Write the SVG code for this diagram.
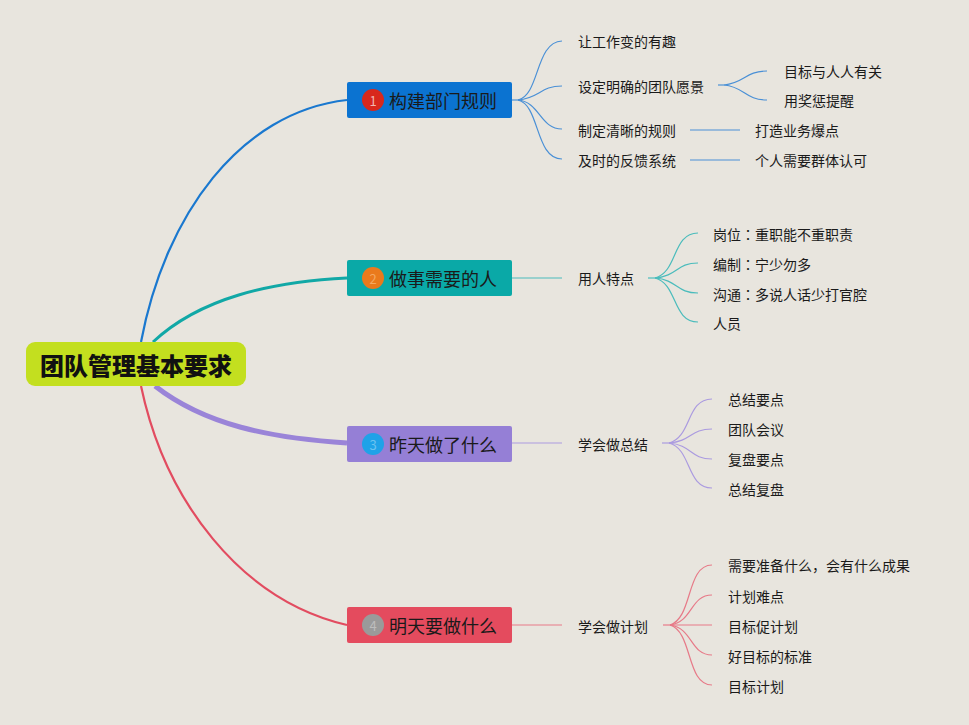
<svg xmlns="http://www.w3.org/2000/svg" width="969" height="725" viewBox="0 0 969 725">
<style>
text{font-family:"Noto Sans CJK SC","Noto Sans",sans-serif;fill:#1a1a1a}
.sub{font-size:14px;dominant-baseline:central}
.br{font-size:18px;dominant-baseline:central}
.num{font-size:13px;text-anchor:middle;dominant-baseline:central}
.root{font-size:24px;font-weight:900;text-anchor:middle;dominant-baseline:central;fill:#111}
.colon{font-family:"Noto Sans CJK JP",sans-serif}
path{fill:none}
.c1{stroke:#1a78cf}
.c2{stroke:#11a8a6}
.c3{stroke:#9a84d8}
.c4{stroke:#e24c60}
.s1{stroke:#4a90d6;stroke-width:1.2}
.s2{stroke:#4bbcbc;stroke-width:1.2}
.s3{stroke:#ab9be0;stroke-width:1.2}
.s4{stroke:#e77a88;stroke-width:1.2}
</style>
<rect width="969" height="725" fill="#e8e5de"/>
<g id="connectors">
<path class="c1" stroke-width="2.2" d="M141,342 C165,215 240,112 347,100"/>
<path class="c2" stroke-width="3" d="M153,342 C200,298 270,282 347,278"/>
<path class="c3" stroke-width="5" d="M155,386 C205,425 270,438 347,443"/>
<path class="c4" stroke-width="2.2" d="M141,386 C165,500 240,600 347,625"/>
<path class="s1" d="M512,100 L518,100"/>
<path class="s1" d="M518,100 C540,95 535,42 562,41"/>
<path class="s1" d="M518,100 C540,98 540,86 562,86"/>
<path class="s1" d="M518,100 C540,102 540,129 562,129"/>
<path class="s1" d="M518,100 C540,105 535,159 562,159"/>
<path class="s1" d="M718,85 L724,85"/>
<path class="s1" d="M724,85 C745,83 745,71 767,71"/>
<path class="s1" d="M724,85 C745,87 745,100 767,100"/>
<path class="s1" stroke-width="1.6" d="M690,130 L740,130"/>
<path class="s1" stroke-width="1.6" d="M690,160 L740,160"/>
<path class="s2" d="M512,278 L562,278"/>
<path class="s2" stroke-width="2" d="M648,278 L655,278"/>
<path class="s2" d="M655,278 C678,272 672,233 698,233"/>
<path class="s2" d="M655,278 C678,276 676,263 698,263"/>
<path class="s2" d="M655,278 C678,280 676,293 698,293"/>
<path class="s2" d="M655,278 C678,284 672,322 698,322"/>
<path class="s3" d="M512,443 L562,443"/>
<path class="s3" stroke-width="2" d="M662,443 L669,443"/>
<path class="s3" d="M669,443 C692,437 686,399 712,399"/>
<path class="s3" d="M669,443 C692,441 690,429 712,429"/>
<path class="s3" d="M669,443 C692,445 690,459 712,459"/>
<path class="s3" d="M669,443 C692,449 686,488 712,488"/>
<path class="s4" d="M512,625 L562,625"/>
<path class="s4" stroke-width="2" d="M663,625 L670,625"/>
<path class="s4" d="M670,625 C693,618 686,565 712,565"/>
<path class="s4" d="M670,625 C693,622 690,595 712,595"/>
<path class="s4" d="M670,625 L712,625"/>
<path class="s4" d="M670,625 C693,628 690,655 712,655"/>
<path class="s4" d="M670,625 C693,632 686,685 712,685"/>
</g>
<g id="root">
<rect x="26" y="342" width="220" height="44" rx="9" fill="#c3df1f"/>
<text class="root" x="136" y="364">团队管理基本要求</text>
</g>
<g id="b1">
<rect x="347" y="82" width="165" height="36" rx="2" fill="#0b73d1"/>
<circle cx="373" cy="100" r="11" fill="#d8281c"/>
<text class="num" x="373" y="100" style="fill:#f2b8ae">1</text>
<text class="br" x="389" y="100">构建部门规则</text>
</g>
<g id="b2">
<rect x="347" y="260" width="165" height="36" rx="2" fill="#0aa9a7"/>
<circle cx="373" cy="278" r="11" fill="#ea7a1c"/>
<text class="num" x="373" y="278" style="fill:#f5a860">2</text>
<text class="br" x="389" y="278">做事需要的人</text>
</g>
<g id="b3">
<rect x="347" y="426" width="165" height="36" rx="2" fill="#957fd6"/>
<circle cx="373" cy="444" r="11" fill="#1fa2e8"/>
<text class="num" x="373" y="444" style="fill:#6cc2f0">3</text>
<text class="br" x="389" y="444">昨天做了什么</text>
</g>
<g id="b4">
<rect x="347" y="607" width="165" height="36" rx="2" fill="#e44b5e"/>
<circle cx="373" cy="625" r="11" fill="#9a9a9a"/>
<text class="num" x="373" y="625" style="fill:#bdbdbd">4</text>
<text class="br" x="389" y="625">明天要做什么</text>
</g>
<g id="b1-children">
<text class="sub" x="578" y="41">让工作变的有趣</text>
<text class="sub" x="578" y="86">设定明确的团队愿景</text>
<text class="sub" x="784" y="71">目标与人人有关</text>
<text class="sub" x="784" y="100">用奖惩提醒</text>
<text class="sub" x="578" y="130">制定清晰的规则</text>
<text class="sub" x="755" y="130">打造业务爆点</text>
<text class="sub" x="578" y="160">及时的反馈系统</text>
<text class="sub" x="755" y="160">个人需要群体认可</text>
</g>
<g id="b2-children">
<text class="sub" x="578" y="278">用人特点</text>
<text class="sub" x="713" y="234">岗位<tspan class="colon">：</tspan>重职能不重职责</text>
<text class="sub" x="713" y="264">编制<tspan class="colon">：</tspan>宁少勿多</text>
<text class="sub" x="713" y="294">沟通<tspan class="colon">：</tspan>多说人话少打官腔</text>
<text class="sub" x="713" y="323">人员</text>
</g>
<g id="b3-children">
<text class="sub" x="578" y="444">学会做总结</text>
<text class="sub" x="728" y="399">总结要点</text>
<text class="sub" x="728" y="429">团队会议</text>
<text class="sub" x="728" y="459">复盘要点</text>
<text class="sub" x="728" y="489">总结复盘</text>
</g>
<g id="b4-children">
<text class="sub" x="578" y="626">学会做计划</text>
<text class="sub" x="728" y="565">需要准备什么，会有什么成果</text>
<text class="sub" x="728" y="596">计划难点</text>
<text class="sub" x="728" y="626">目标促计划</text>
<text class="sub" x="728" y="656">好目标的标准</text>
<text class="sub" x="728" y="686">目标计划</text>
</g>
</svg>
